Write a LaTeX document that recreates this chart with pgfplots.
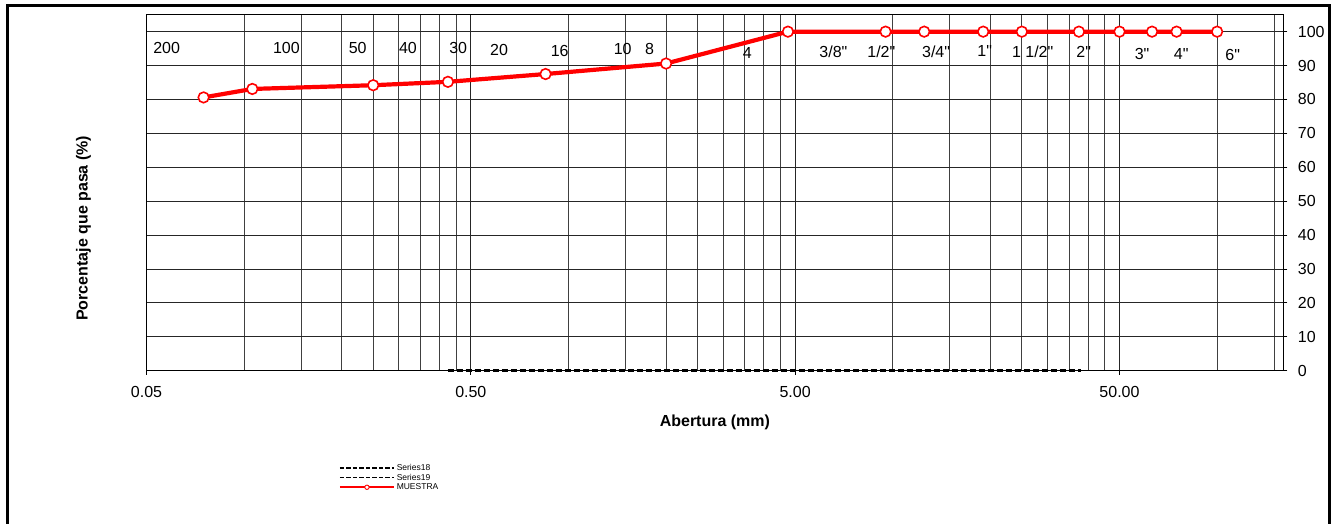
\documentclass[border=0pt]{standalone}
\usepackage{fontspec}
\setmainfont{Liberation Sans}[Ligatures=TeXOff]
\usepackage{pgfplots}
\pgfplotsset{compat=1.18}
\pgfplotsset{
  lineleg/.style={legend image code/.code={\draw[##1] (0pt,0pt) -- (54pt,0pt);}},
  markleg/.style={legend image code/.code={\draw[##1] (0pt,0pt) -- (54pt,0pt); \draw[red, fill=white, line width=0.9pt] (27pt,0pt) circle (2.2pt);}},
}
\begin{document}
\begin{tikzpicture}[x=1pt,y=1pt]
\path[use as bounding box] (0,0) rectangle (1338,523);
\begin{axis}[
  at={(146.5pt,152.3pt)}, anchor=south west,
  scale only axis, width=1136.8pt, height=356pt,
  xmode=log, log basis x=10,
  xmin=0.05, xmax=160, ymin=0, ymax=105,
  clip=false,
  xtick={0.05,0.5,5,50},
  xticklabels={0.05,0.50,5.00,50.00},
  minor xtick={0.1,0.15,0.2,0.25,0.3,0.35,0.4,0.45,1,1.5,2,2.5,3,3.5,4,4.5,10,15,20,25,30,35,40,45,100,150},
  ytick={0,10,...,100},
  xtick pos=bottom, ytick pos=right,
  yticklabel pos=right,
  tick align=outside,
  major tick length=4pt, minor tick length=0pt,
  xmajorgrids, xminorgrids, ymajorgrids,
  grid style={black!85, line width=0.9pt},
  minor grid style={black!75, line width=0.9pt},
  axis line style={black, line width=1.5pt},
  every tick/.style={black, line width=0.8pt},
  /pgf/number format/assume math mode=true,
  tick label style={font=\fontsize{16}{19}\selectfont},
  xticklabel style={yshift=-8pt},
  yticklabel style={xshift=7pt},
  label style={font=\fontsize{16}{19}\selectfont\bfseries},
  xlabel={Abertura (mm)},
  xlabel style={at={(rel axis cs:0.5,0)}, anchor=center, yshift=-52pt},
  ylabel={Porcentaje que pasa (\%)},
  ylabel style={at={(rel axis cs:0,0.40)}, anchor=center, yshift=63pt},
  legend style={draw=none, fill=none, inner sep=0pt, at={(rel axis cs:0.1693,-0.2565)}, anchor=north west,
    font=\fontsize{8.5}{9}\selectfont, row sep=-2pt, cells={anchor=west}},
  legend cell align=left,
]
% hidden dashed series on the x axis
\addplot[black, line width=2.5pt, dash pattern=on 6pt off 3pt, forget plot] coordinates {(0.425,0) (38.1,0)};
\addplot[black, line width=2.5pt, dash pattern=on 6pt off 3pt, forget plot] coordinates {(0.425,0) (38.1,0)};
% sample
\addplot[red, line width=4.2pt, mark=*, mark size=5.3pt,
  mark options={solid, draw=red, fill=white, line width=1.6pt}, forget plot] coordinates {
  (0.075,80.6) (0.106,83.1) (0.25,84.2) (0.425,85.2) (0.85,87.5) (2.0,90.6)
  (4.75,100) (9.5,100) (12.5,100) (19,100) (25,100) (37.5,100) (50,100)
  (63,100) (75,100) (100,100)};
% sieve labels
\addplot[draw=none, mark=none, forget plot, nodes near coords, point meta=explicit symbolic,
  nodes near coords style={anchor=center, inner sep=0pt, font=\fontsize{16}{19}\selectfont, black}]
  table[col sep=comma, row sep=\\, meta=lab] {
  x,y,lab\\
  0.0577,95.3,200\\
  0.135,95.3,100\\
  0.224,95.3,50\\
  0.32,95.3,40\\
  0.457,95.3,30\\
  0.611,94.5,20\\
  0.94,94.3,16\\
  1.47,94.8,10\\
  1.78,94.8,8\\
  3.56,93.6,4\\
  6.56,94.1,3/8"\\
  9.22,94.0,1/2"\\
  13.6,94.0,3/4"\\
  19.2,94.3,1"\\
  27.0,94.1,1 1/2"\\
  38.8,94.0,2"\\
  58.7,93.5,3"\\
  77.5,93.3,4"\\
  111.7,93.1,6"\\
  };
\addlegendimage{black, line width=1.5pt, dash pattern=on 4.5pt off 2pt, lineleg}
\addlegendentry{Series18}
\addlegendimage{black, line width=1.5pt, dash pattern=on 4.5pt off 2pt, lineleg}
\addlegendentry{Series19}
\addlegendimage{red, line width=1.6pt, markleg}
\addlegendentry{MUESTRA}
\end{axis}
\draw[line width=3.5pt] (7.5,-10) -- (7.5,517.5) -- (1329.5,517.5) -- (1329.5,-10);
\end{tikzpicture}
\end{document}
